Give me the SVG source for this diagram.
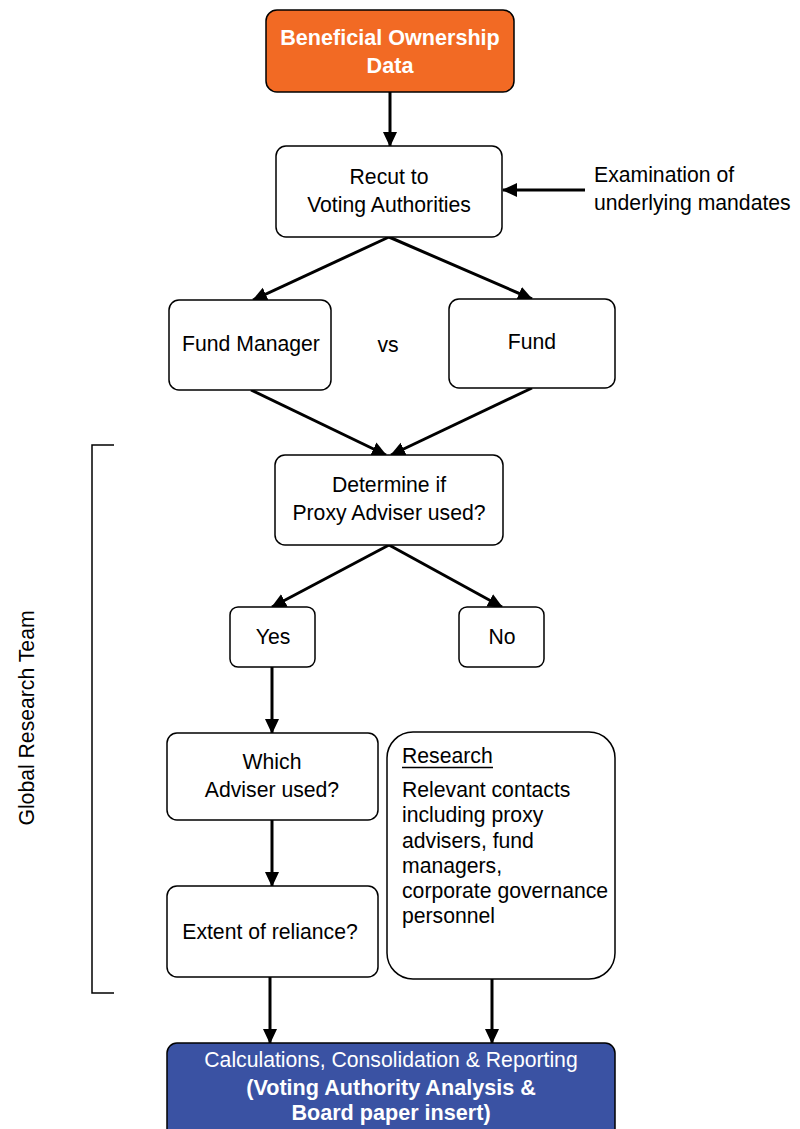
<svg xmlns="http://www.w3.org/2000/svg" width="800" height="1129" viewBox="0 0 800 1129">
<style>
.box{fill:#fff;stroke:#000;stroke-width:1.5}
.t{font-family:"Liberation Sans",Arial,sans-serif;font-size:21.2px;fill:#000}
.c{text-anchor:middle}
.w{fill:#fff}
.b{font-weight:bold;font-size:21.6px}
.ln{stroke:#000;stroke-width:3;fill:none;marker-end:url(#ah)}
</style>
<defs>
<marker id="ah" markerUnits="userSpaceOnUse" markerWidth="16" markerHeight="16" viewBox="0 0 16 16" refX="14" refY="8" orient="auto">
<path d="M0,1 L15,8 L0,15 Z" fill="#000"/>
</marker>
</defs>
<rect width="800" height="1129" fill="#fff"/>
<g id="connectors">
<line class="ln" x1="390" y1="92" x2="390" y2="146"/>
<line class="ln" x1="585" y1="190" x2="503" y2="190"/>
<line class="ln" x1="389" y1="237" x2="253" y2="300"/>
<line class="ln" x1="389" y1="237" x2="532" y2="299"/>
<line class="ln" x1="251" y1="390" x2="386" y2="455"/>
<line class="ln" x1="532" y1="388" x2="391" y2="455"/>
<line class="ln" x1="389" y1="545" x2="272" y2="607"/>
<line class="ln" x1="389" y1="545" x2="502" y2="607"/>
<line class="ln" x1="272" y1="667" x2="272" y2="733"/>
<line class="ln" x1="272" y1="820" x2="272" y2="886"/>
<line class="ln" x1="270" y1="977" x2="270" y2="1043"/>
<line class="ln" x1="492" y1="977" x2="492" y2="1043"/>
</g>
<g id="bracket">
<path d="M114,445 H92 V993 H114" fill="none" stroke="#000" stroke-width="1.5"/>
<text class="t c" transform="translate(34,718) rotate(-90)">Global Research Team</text>
</g>
<g id="beneficial">
<rect x="266" y="10" width="248" height="82" rx="11" fill="#F26A24" stroke="#000" stroke-width="1.5"/>
<text class="t c w b" x="390" y="45">Beneficial Ownership</text>
<text class="t c w b" x="390" y="73">Data</text>
</g>
<g id="recut">
<rect class="box" x="276" y="146" width="226" height="91" rx="10"/>
<text class="t c" x="389" y="184">Recut to</text>
<text class="t c" x="389" y="212">Voting Authorities</text>
</g>
<g id="examination">
<text class="t" x="594" y="182">Examination of</text>
<text class="t" x="594" y="210">underlying mandates</text>
</g>
<g id="fundmanager">
<rect class="box" x="169" y="300" width="162" height="90" rx="10"/>
<text class="t c" x="251" y="351">Fund Manager</text>
</g>
<g id="vs">
<text class="t c" x="388" y="352">vs</text>
</g>
<g id="fund">
<rect class="box" x="449" y="299" width="166" height="89" rx="10"/>
<text class="t c" x="532" y="349">Fund</text>
</g>
<g id="determine">
<rect class="box" x="275" y="455" width="228" height="90" rx="10"/>
<text class="t c" x="389" y="492">Determine if</text>
<text class="t c" x="389" y="520">Proxy Adviser used?</text>
</g>
<g id="yes">
<rect class="box" x="230" y="607" width="85" height="60" rx="8"/>
<text class="t c" x="273" y="644">Yes</text>
</g>
<g id="no">
<rect class="box" x="459" y="607" width="85" height="60" rx="8"/>
<text class="t c" x="502" y="644">No</text>
</g>
<g id="which">
<rect class="box" x="167" y="733" width="211" height="87" rx="10"/>
<text class="t c" x="272" y="769">Which</text>
<text class="t c" x="272" y="797">Adviser used?</text>
</g>
<g id="extent">
<rect class="box" x="167" y="886" width="211" height="91" rx="10"/>
<text class="t c" x="270" y="939">Extent of reliance?</text>
</g>
<g id="research">
<rect class="box" x="387" y="732" width="228" height="247" rx="26"/>
<text class="t" x="402" y="763">Research</text>
<line x1="402" y1="767.5" x2="493" y2="767.5" stroke="#000" stroke-width="1.5"/>
<text class="t" x="402" y="797">Relevant contacts</text>
<text class="t" x="402" y="822">including proxy</text>
<text class="t" x="402" y="848">advisers, fund</text>
<text class="t" x="402" y="873">managers,</text>
<text class="t" x="402" y="898">corporate governance</text>
<text class="t" x="402" y="923">personnel</text>
</g>
<g id="calculations">
<rect x="167" y="1043" width="448" height="100" rx="10" fill="#3A52A3" stroke="#000" stroke-width="1.5"/>
<text class="t c w" x="391" y="1067">Calculations, Consolidation &amp; Reporting</text>
<text class="t c w b" x="391" y="1095">(Voting Authority Analysis &amp;</text>
<text class="t c w b" x="391" y="1120">Board paper insert)</text>
</g>
</svg>
